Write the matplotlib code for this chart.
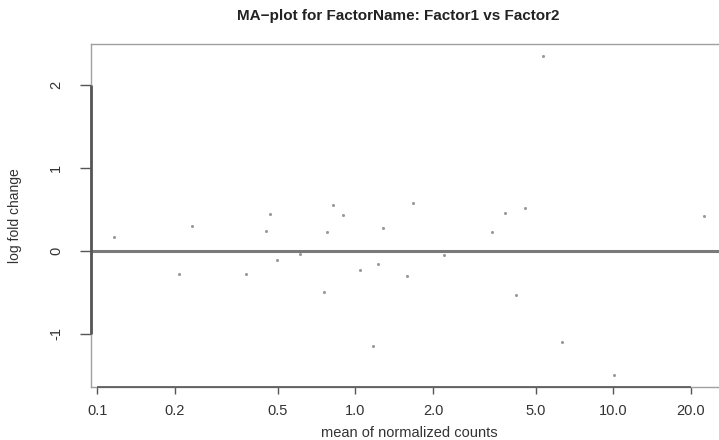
import numpy as np
import matplotlib
matplotlib.use("Agg")
import matplotlib.pyplot as plt

# mean of normalized counts / log fold change
base_mean = [0.116, 0.233, 0.208, 0.378, 0.466, 0.451, 0.496, 0.612, 0.817,
             0.774, 0.894, 0.759, 1.04, 1.224, 1.28, 1.174, 1.678, 1.59,
             5.34, 2.21, 3.80, 4.54, 3.38, 4.18, 6.32, 10.06, 22.5]
log_fc = [0.165, 0.297, -0.277, -0.277, 0.446, 0.237, -0.112, -0.036, 0.55,
          0.233, 0.43, -0.498, -0.233, -0.157, 0.273, -1.14, 0.574, -0.305,
          2.346, -0.044, 0.454, 0.514, 0.233, -0.534, -1.10, -1.49, 0.422]

x_ticks = [0.1, 0.2, 0.5, 1.0, 2.0, 5.0, 10.0, 20.0]
x_tick_labels = ["0.1", "0.2", "0.5", "1.0", "2.0", "5.0", "10.0", "20.0"]
y_ticks = [-1, 0, 1, 2]
y_tick_labels = ["-1", "0", "1", "2"]

TITLE = "MA\u2212plot for FactorName: Factor1 vs Factor2"

W, H = 719, 440
plt.rcParams['font.family'] = ['Liberation Sans', 'DejaVu Sans']

fig = plt.figure(figsize=(W / 100, H / 100), dpi=100)

# plot region in pixels (right side runs a bit past the image)
left_px, right_px, top_px, bottom_px = 91, 727, 44, 387
ax = fig.add_axes([left_px / W, 1 - bottom_px / H,
                   (right_px - left_px) / W, (bottom_px - top_px) / H])

px_per_decade = 258.0
x0_px = 97.3  # where 0.1 sits
xmin = 10 ** (-1 + (left_px - x0_px) / px_per_decade)
xmax = 10 ** (-1 + (right_px - x0_px) / px_per_decade)
ax.set_xscale("log")
ax.set_xlim(xmin, xmax)
ax.set_ylim(-1.64, 2.494)

ax.scatter(base_mean, log_fc, s=5, color="#9a9a9a", linewidths=0, zorder=3)
ax.axhline(0, color="#7a7a7a", lw=2.2, zorder=2)

for sp in ax.spines.values():
    sp.set_color("#a0a0a0")
    sp.set_linewidth(1.0)

# R style axis lines between first and last tick
ax.plot([xmin, xmin], [y_ticks[0], y_ticks[-1]], color="#555555", lw=2.0,
        clip_on=False, zorder=4, solid_capstyle="butt")
ax.plot([x_ticks[0], x_ticks[-1]], [-1.64, -1.64], color="#555555", lw=1.2,
        clip_on=False, zorder=4, solid_capstyle="butt")

ax.set_xticks(x_ticks)
ax.set_xticklabels(x_tick_labels)
ax.minorticks_off()
ax.set_yticks(y_ticks)
ax.set_yticklabels(y_tick_labels, rotation=90, va="center")
ax.tick_params(axis="x", direction="out", length=5, width=1.0, color="#555555",
               labelsize=10.5, labelcolor="#333333", pad=7)
ax.tick_params(axis="y", direction="out", length=8, width=1.0, color="#555555",
               labelsize=10.5, labelcolor="#333333", pad=12)

fig.text(398 / W, 1 - 16 / H, TITLE, ha="center", va="center",
         fontsize=11, fontweight="bold", color="#222222")
fig.text(409 / W, 1 - 433 / H, "mean of normalized counts", ha="center",
         va="center", fontsize=10.5, color="#333333")
fig.text(15 / W, 1 - 216 / H, "log fold change", ha="center", va="center",
         rotation=90, fontsize=10, color="#333333")

fig.savefig("out.png", dpi=100)
